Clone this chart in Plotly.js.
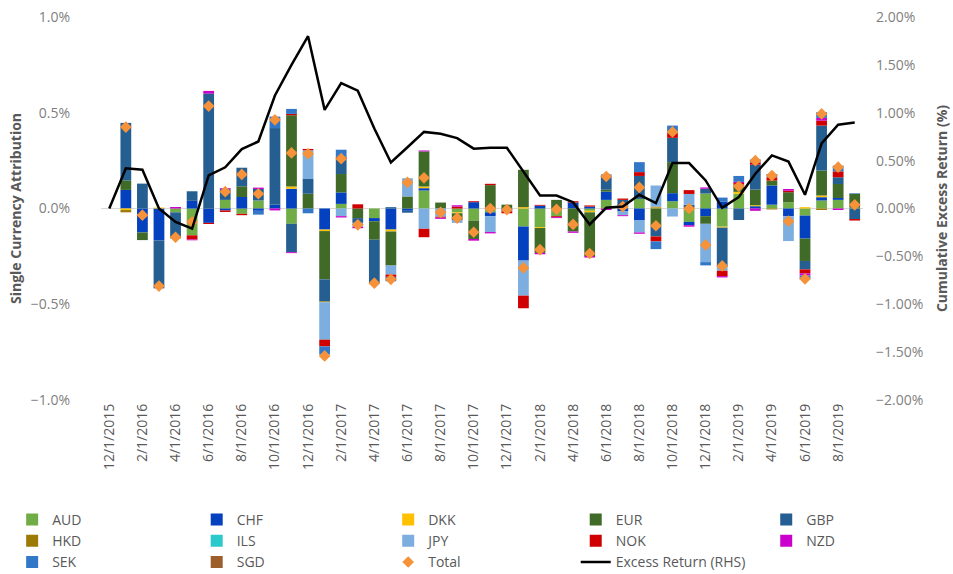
<!DOCTYPE html>
<html>
<head>
<meta charset="utf-8">
<script src="https://cdn.plot.ly/plotly-3.0.1.min.js"></script>
<style>html,body{margin:0;padding:0;background:#fff;overflow:hidden;}#chart{width:953px;height:600px;}</style>
</head>
<body>
<div id="chart"></div>
<script>
const months = ["12/1/2015","1/1/2016","2/1/2016","3/1/2016","4/1/2016","5/1/2016","6/1/2016","7/1/2016","8/1/2016","9/1/2016","10/1/2016","11/1/2016","12/1/2016","1/1/2017","2/1/2017","3/1/2017","4/1/2017","5/1/2017","6/1/2017","7/1/2017","8/1/2017","9/1/2017","10/1/2017","11/1/2017","12/1/2017","1/1/2018","2/1/2018","3/1/2018","4/1/2018","5/1/2018","6/1/2018","7/1/2018","8/1/2018","9/1/2018","10/1/2018","11/1/2018","12/1/2018","1/1/2019","2/1/2019","3/1/2019","4/1/2019","5/1/2019","6/1/2019","7/1/2019","8/1/2019","9/1/2019"];

const tickLabels = ["12/1/2015","2/1/2016","4/1/2016","6/1/2016","8/1/2016","10/1/2016","12/1/2016","2/1/2017","4/1/2017","6/1/2017","8/1/2017","10/1/2017","12/1/2017","2/1/2018","4/1/2018","6/1/2018","8/1/2018","10/1/2018","12/1/2018","2/1/2019","4/1/2019","6/1/2019","8/1/2019"];

const AUD = [null, 0,0,0,-0.02,-0.14,0,0.045,-0.028,0.042,0, -0.08,0,0,0.024,0,-0.05,0,0,0.094,0, -0.02,-0.063,-0.02,0,-0.094,-0.097,-0.04,0,-0.012,0.045, 0.015,0.05,0,0.038,-0.07,0.078,-0.095,0.077,0,0.02, 0.033,-0.037,0.042,0.045,0.004];
const CHF = [null, 0.097,-0.125,-0.167,0,0.04,-0.075,-0.01,0.06,-0.012,0.02, 0.103,0,-0.11,0.06,0,-0.017,-0.11,-0.012,0.012,0, 0,0.033,-0.02,-0.015,-0.178,0.015,0,0.031,0.01,0.043, -0.015,-0.06,0,0.042,-0.017,-0.04,0.035,0,0.012,0.1, -0.04,-0.12,0.017,0.01,0];
const DKK = [null, -0.008,0,0.005,0,0,0,0,0,0,0, 0.012,0,-0.008,0,0,0,-0.01,0,0.009,0, -0.005,0,0,0,0.007,-0.005,0,0,-0.008,0, 0,0,0.005,0,0,0,-0.005,0.01,0.005,0, 0,0.007,0.009,0,0];
const EUR = [null, 0.05,-0.04,0,0,0,0,0,0.056,0,0, 0.372,0.077,-0.252,0.096,-0.05,-0.096,-0.178,0.063,0.183,0.031, -0.035,-0.096,0.122,0.02,0.195,-0.13,0.045,-0.12,-0.228,0.01, 0,0,-0.094,0.162,0,-0.04,0,0.038,0.082,0.026, 0.052,-0.117,0.13,0.073,0.073];
const GBP = [null, 0.30,0.13,-0.25,-0.13,0.05,0.60,0.056,0.097,0.06,0.40, -0.148,0.077,-0.115,0.078,-0.025,-0.23,0.007,-0.01,0,0, 0,0,0,0,0,0,0,0,0,0.075, 0.03,0.12,-0.052,0.127,0.02,0.025,-0.205,-0.06,0.13,0, 0,-0.044,0.235,0.035,-0.055];
const HKD = [null, -0.012,0,0,0,0,0,0,0,0,0, 0,0,-0.005,0,0,0,0,0,0,0, 0,0,0,0,0,0,0,0,0,0, 0,0,0.005,0,0,0,0,0,0,-0.005, 0,0,-0.008,0,0];
const ILS = [null, 0,0,0,-0.008,0,0,0,0,0,0, 0,0,0,0,0,0,0,0,0,0, 0,0,0,0,0,0,0,0,0,0, 0,0,0,0,0,0,0,0,0,0, 0,0,0,0,0];
const JPY = [null, 0,0,0,0,0,0,0,0,0,0, 0,0.15,-0.195,-0.04,-0.02,0,-0.047,0.095,-0.106,-0.043, -0.015,0,-0.083,0,-0.183,0,0,0,0,0, -0.02,-0.065,0.11,-0.042,0.056,-0.2,-0.02,0,0,0, -0.13,0,0,0,0];
const NOK = [null, 0,0,0,0,-0.022,-0.006,-0.008,-0.007,0,0, 0.007,0.007,-0.035,0.012,0.022,0,-0.012,0,-0.044,-0.005, 0.01,0.005,0.007,-0.01,-0.066,0.004,-0.005,0.007,0.006,0, 0.007,0.02,-0.026,0.024,0.02,0,-0.028,0.008,0.012,0.017, 0.008,-0.02,0.026,0.031,-0.008];
const NZD = [null, 0,0,0,0.008,-0.004,0.014,0.005,0,0.007,-0.01, -0.005,0,0,-0.007,-0.008,0,0,0,0.005,-0.006, 0.007,-0.009,-0.007,0,0,-0.007,-0.005,-0.007,-0.008,-0.008, -0.005,-0.007,0,0,-0.008,0.007,-0.007,0.006,-0.012,0, 0.009,-0.012,0.014,-0.008,0];
const SEK = [null, 0,0,0,0,0,0,0,0,-0.02,0.06, 0.026,-0.025,-0.043,0.037,0,0,-0.023,0,0,0, 0,0,0,0,0,0,0,0,0,0.005, 0,0.052,-0.04,0.04,0,-0.017,0.022,0.031,0.015,0.017, 0,-0.02,0.03,0.03,0.003];
const SGD = [null, 0,0,0,0,0,0,0,0,0,0, 0,0,0,0,0,0,0,0,0,0, 0,0,0,0,0,0,0,0,0,0, 0,0,0,0,0,0,0,0,0,0, 0,0,0,0,0];

const total = [null, 0.425,-0.035,-0.405,-0.15,-0.07,0.535,0.088,0.178,0.077,0.463, 0.29,0.286,-0.77,0.26,-0.085,-0.39,-0.37,0.136,0.16,-0.02, -0.05,-0.124,0.0,-0.006,-0.31,-0.215,-0.005,-0.083,-0.235,0.167, 0.01,0.11,-0.09,0.4,0.0,-0.19,-0.3,0.116,0.25,0.172, -0.066,-0.367,0.494,0.216,0.019];
const excessReturn = [0, 0.42,0.405,0.0,-0.14,-0.21,0.345,0.43,0.62,0.70,1.18, 1.50,1.80,1.03,1.31,1.23,0.835,0.48,0.64,0.80,0.78, 0.735,0.625,0.635,0.635,0.38,0.136,0.136,0.066,-0.167,0.007, 0.02,0.143,0.056,0.475,0.475,0.293,0.007,0.12,0.363,0.555, 0.49,0.143,0.68,0.875,0.897];

// [name, values, colour, legend column]
const currencies = [
  ["AUD", AUD, "#70AD47", "legend"],
  ["CHF", CHF, "#0341BE", "legend2"],
  ["DKK", DKK, "#FFC000", "legend3"],
  ["EUR", EUR, "#3F6A28", "legend4"],
  ["GBP", GBP, "#255E91", "legend5"],
  ["HKD", HKD, "#9C7A06", "legend"],
  ["ILS", ILS, "#2CC9CC", "legend2"],
  ["JPY", JPY, "#7DAEE0", "legend3"],
  ["NOK", NOK, "#D00000", "legend4"],
  ["NZD", NZD, "#CC00CC", "legend5"],
  ["SEK", SEK, "#3378C8", "legend"],
  ["SGD", SGD, "#9C5F2C", "legend2"]
];

const FONT = "Open Sans, Liberation Sans, sans-serif";
const traces = currencies.map(([name, vals, color, lg]) => ({
  type: "bar", name: name, x: months, y: vals, legend: lg,
  marker: {color: color, line: {width: 0}},
  hoverinfo: "skip"
}));
traces.push({
  type: "scatter", mode: "markers", name: "Total", legend: "legend3",
  x: months, y: total,
  marker: {symbol: "diamond", color: "#F5923A", size: 9},
  hoverinfo: "skip"
});
traces.push({
  type: "scatter", mode: "lines", name: "Excess Return (RHS)", legend: "legend4",
  x: months, y: excessReturn, yaxis: "y2",
  line: {color: "#000000", width: 2.5},
  hoverinfo: "skip"
});
// draw the line beneath the diamonds
traces.splice(12, 0, traces.pop());

function legendAt(xp) {
  return {
    orientation: "v", x: xp, xanchor: "left", y: -0.2715, yanchor: "top",
    font: {family: FONT, size: 14, color: "#595959"},
    traceorder: "normal", itemclick: false, itemdoubleclick: false,
    bgcolor: "rgba(0,0,0,0)", borderwidth: 0
  };
}

const layout = {
  width: 953, height: 600,
  margin: {l: 91, r: 90, t: 17, b: 200},
  paper_bgcolor: "#ffffff", plot_bgcolor: "#ffffff",
  font: {family: FONT, size: 14, color: "#7F7F7F"},
  barmode: "relative",
  bargap: 0.35,
  showlegend: true,
  legend: legendAt(-0.1166),
  legend2: legendAt(0.1256),
  legend3: legendAt(0.3769),
  legend4: legendAt(0.6230),
  legend5: legendAt(0.8730),
  xaxis: {
    type: "category", range: [-0.5, 45.5],
    tickmode: "array", tickvals: tickLabels, ticktext: tickLabels,
    tickangle: -90, showgrid: false, showline: false, ticks: "",
    tickfont: {family: FONT, size: 14, color: "#595959"},
    automargin: false
  },
  yaxis: {
    range: [-1, 1], dtick: 0.5, tickformat: ".1f", ticksuffix: "%",
    showgrid: false, zeroline: true, zerolinecolor: "#D9D9D9", zerolinewidth: 1.5,
    showline: false, ticks: "", ticklabelstandoff: 30,
    tickfont: {family: FONT, size: 14, color: "#7F7F7F"},
    title: {text: "Single Currency Attribution", font: {family: FONT, size: 14, color: "#595959", weight: "bold"}, standoff: 5},
    automargin: false
  },
  yaxis2: {
    overlaying: "y", side: "right",
    range: [-2, 2], dtick: 0.5, tickformat: ".2f", ticksuffix: "%",
    showgrid: false, zeroline: false, showline: false, ticks: "", ticklabelstandoff: 12,
    tickfont: {family: FONT, size: 14, color: "#7F7F7F"},
    title: {text: "Cumulative Excess Return (%)", font: {family: FONT, size: 14, color: "#595959", weight: "bold"}, standoff: 14},
    automargin: false
  }
};

Plotly.newPlot("chart", traces, layout, {displayModeBar: false, staticPlot: true});
</script>
</body>
</html>
